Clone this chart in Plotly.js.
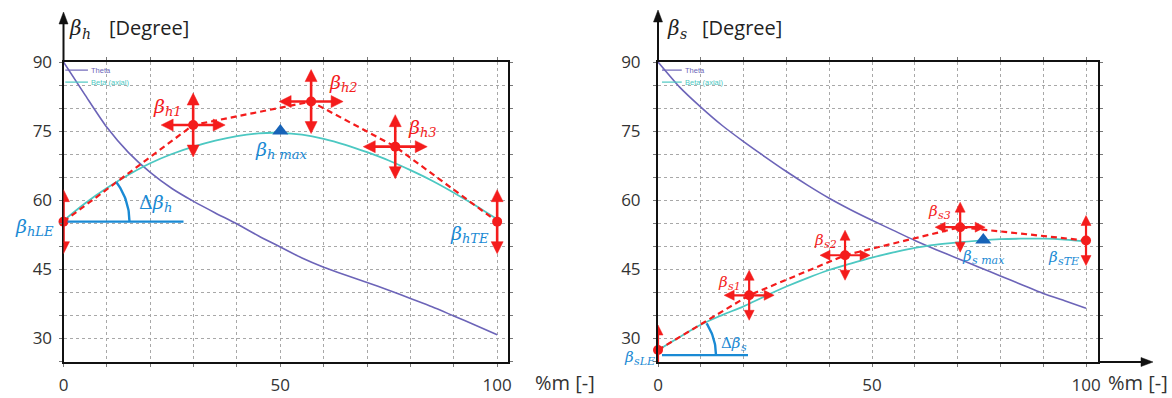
<!DOCTYPE html>
<html><head><meta charset="utf-8">
<script src="https://cdn.plot.ly/plotly-3.0.1.min.js"></script>
<style>html,body{margin:0;padding:0;background:#fff}#chart{width:1172px;height:398px}</style>
</head><body><div id="chart"></div>
<script>
// ---------------- data ----------------
const mPos = [0,5,10,15,20,25,30,35,40,45,50,55,60,65,70,75,80,85,90,95,100];
const thetaHub = [90,82.8,75.8,70.3,66.0,62.5,59.7,57.2,54.8,52.2,49.8,47.4,45.4,43.7,42.1,40.4,38.6,36.8,34.8,32.8,30.7];
const betaHub  = [55.5,59.3,62.6,65.5,68.0,70.0,71.6,72.9,73.9,74.5,74.6,74.2,73.3,72.0,70.4,68.6,66.5,64.2,61.6,58.8,55.8];
const thetaShroud = [90,84.6,80.2,76.2,72.7,69.4,66.2,63.2,60.4,57.9,55.6,53.4,51.2,49.2,47.3,45.4,43.5,41.6,39.7,38.1,36.5];
const betaShroud  = [27.4,30.2,32.9,35.0,36.9,39.1,41.2,43.1,44.8,46.2,47.5,48.6,49.6,50.3,50.8,51.2,51.5,51.6,51.6,51.4,51.0];

const ctrlHubX = [0, 29.9, 57.1, 76.5, 100];
const ctrlHubY = [55.3, 76.3, 81.4, 71.6, 55.3];
const ctrlShrX = [0, 21.3, 43.7, 70.6, 100];
const ctrlShrY = [27.4, 39.3, 48.0, 54.1, 51.2];
const ctrlHubNames = ['hLE','h1','h2','h3','hTE'];
const ctrlShrNames = ['sLE','s1','s2','s3','sTE'];
const hubMaxX = [50], hubMaxY = [75.0];
const shrMaxX = [76], shrMaxY = [51.3];
const angleBaseHub = 55.3, angleBaseShr = 26.3;

const xTickVals = [0, 50, 100];
const xTickText = ['0', '50', '100'];
const yTickVals = [30, 45, 60, 75, 90];
const yTickText = ['30', '45', '60', '75', '90'];

// ---------------- styling / geometry ----------------
const W = 1172, H = 398;
const L = {x0:63.5, x1:508, xr:102.5};
const R = {x0:658, x1:1098, xr:102.8};
const yTop = 62, yBot = 362, yLo = 24.8, yHi = 90;
const pxY = (yBot - yTop)/(yHi - yLo);
const pxXL = (L.x1 - L.x0)/L.xr, pxXR = (R.x1 - R.x0)/R.xr;

const RED = '#f41c1c', BLUE = '#1a8ad4', TRI = '#1763b8', PURPLE = '#6c64b8', TEAL = '#4cc8c2';
const GREEK = 'DejaVu Serif';
const GRID = '#a8a8a8';

function minorGrid(dt){
  return {tick0: 0, dtick: dt, showgrid: true, gridcolor: GRID, griddash: 'dot', gridwidth: 1,
          ticks: 'outside', ticklen: 3, tickcolor: '#777'};
}
function axX(dom, rng, anchor){
  return {domain: dom, range: rng, anchor: anchor, tickmode: 'array', tickvals: xTickVals, ticktext: xTickText,
    showgrid: true, gridcolor: GRID, griddash: 'dot', gridwidth: 1,
    showline: true, linecolor: '#111', linewidth: 2, mirror: 'allticks',
    ticks: 'outside', ticklen: 3, tickcolor: '#777', zeroline: false, minor: minorGrid(10),
    tickfont: {family: 'Open Sans', size: 17, color: '#333'}, ticklabelstandoff: 4, fixedrange: true};
}
function axY(dom, anchor, standoff){
  return {domain: dom, range: [yLo, yHi], anchor: anchor, tickmode: 'array', tickvals: yTickVals, ticktext: yTickText,
    showgrid: true, gridcolor: GRID, griddash: 'dot', gridwidth: 1,
    showline: true, linecolor: '#111', linewidth: 2, mirror: 'allticks',
    ticks: 'outside', ticklen: 3, tickcolor: '#777', zeroline: false, minor: minorGrid(5),
    tickfont: {family: 'Open Sans', size: 17, color: '#333'}, ticklabelstandoff: standoff, fixedrange: true};
}

const yDom = [1 - yBot/H, 1 - yTop/H];

const traces = [];
function addChart(xa, ya, theta, beta, cx, cy, mx, my){
  traces.push({x: mPos, y: theta, xaxis: xa, yaxis: ya, mode: 'lines', line: {color: PURPLE, width: 1.6, shape: 'spline', smoothing: 0.6}, showlegend: false, hoverinfo: 'skip'});
  traces.push({x: mPos, y: beta, xaxis: xa, yaxis: ya, mode: 'lines', line: {color: TEAL, width: 1.8, shape: 'spline'}, showlegend: false, hoverinfo: 'skip'});
  traces.push({x: cx, y: cy, xaxis: xa, yaxis: ya, mode: 'lines+markers', line: {color: RED, width: 2.2, dash: '6px,4px'},
    marker: {color: RED, size: 10}, showlegend: false, hoverinfo: 'skip', cliponaxis: false});
  traces.push({x: mx, y: my, xaxis: xa, yaxis: ya, mode: 'markers', marker: {color: TRI, size: 14, symbol: 'triangle-up'}, showlegend: false, hoverinfo: 'skip'});
}
addChart('x', 'y', thetaHub, betaHub, ctrlHubX, ctrlHubY, hubMaxX, hubMaxY);
addChart('x2', 'y2', thetaShroud, betaShroud, ctrlShrX, ctrlShrY, shrMaxX, shrMaxY);

// angle markers (arc + baseline)
function angleMarker(xa, ya, cx, cy, base, pxX, radius, lenPx){
  const dxp = (cx[1]-cx[0])*pxX, dyp = (cy[1]-base)*pxY;
  const ang = Math.atan2(dyp, dxp);
  const ax = [], ay = [];
  for (let i = 0; i <= 24; i++){
    const t = ang*i/24;
    ax.push(cx[0] + radius*Math.cos(t)/pxX);
    ay.push(base + radius*Math.sin(t)/pxY);
  }
  traces.push({x: ax, y: ay, xaxis: xa, yaxis: ya, mode: 'lines', line: {color: BLUE, width: 2.4}, showlegend: false, hoverinfo: 'skip'});
  traces.push({x: [cx[0] + 4/pxX, cx[0] + lenPx/pxX], y: [base, base], xaxis: xa, yaxis: ya, mode: 'lines', line: {color: BLUE, width: 2.4}, showlegend: false, hoverinfo: 'skip'});
}
angleMarker('x', 'y', ctrlHubX, ctrlHubY, angleBaseHub, pxXL, 66, 120);
angleMarker('x2', 'y2', ctrlShrX, ctrlShrY, angleBaseShr, pxXR, 58, 90);

const shapes = [];
const annotations = [];

// red double arrows drawn as pixel-sized shapes anchored on each control point
function arrowsFor(xa, ya, cx, cy, len, hl, hw, w){
  cx.forEach((x, i) => {
    const cross = !(i === 0 || i === cx.length - 1);
    const s = len - hl + 1;
    let shaft = 'M0,' + (-s) + ' L0,' + s;
    let heads = 'M0,' + len + ' L' + (-hw) + ',' + (len-hl) + ' L' + hw + ',' + (len-hl) + ' Z' +
                ' M0,' + (-len) + ' L' + (-hw) + ',' + (-len+hl) + ' L' + hw + ',' + (-len+hl) + ' Z';
    if (cross){
      shaft += ' M' + (-s) + ',0 L' + s + ',0';
      heads += ' M' + len + ',0 L' + (len-hl) + ',' + (-hw) + ' L' + (len-hl) + ',' + hw + ' Z' +
               ' M' + (-len) + ',0 L' + (-len+hl) + ',' + (-hw) + ' L' + (-len+hl) + ',' + hw + ' Z';
    }
    const base = {type: 'path', xref: xa, yref: ya, xsizemode: 'pixel', ysizemode: 'pixel', xanchor: x, yanchor: cy[i]};
    shapes.push(Object.assign({}, base, {path: shaft, line: {color: RED, width: w}}));
    shapes.push(Object.assign({}, base, {path: heads, fillcolor: RED, line: {color: RED, width: 0.5}}));
  });
}
arrowsFor('x', 'y', ctrlHubX, ctrlHubY, 32, 12, 6, 2.6);
arrowsFor('x2', 'y2', ctrlShrX, ctrlShrY, 25, 10, 5, 2.2);

// axis arrows (shapes)
function axisArrow(xa, ya, xa0, ya0, path, head){
  const base = {type: 'path', xref: xa + ' domain', yref: ya + ' domain', xsizemode: 'pixel', ysizemode: 'pixel', xanchor: xa0, yanchor: ya0};
  shapes.push(Object.assign({}, base, {path: path, line: {color: '#111', width: 2}}));
  shapes.push(Object.assign({}, base, {path: head, fillcolor: '#111', line: {color: '#111', width: 0.5}}));
}
axisArrow('x', 'y', 0, 1, 'M0,0 L0,42', 'M0,50 L-4.5,38 L4.5,38 Z');
axisArrow('x2', 'y2', 0, 1, 'M0,0 L0,44', 'M0,52 L-4.5,40 L4.5,40 Z');
axisArrow('x2', 'y2', 1, 0, 'M0,0 L47,0', 'M55,0 L43,-4.5 L43,4.5 Z');

// Greek label = main glyph(s) + separately placed subscript (no empty helper tspans)
function greekLabel(xref, yref, x, y, pre, sub, color, size, dx, dy, anchorLeft){
  const subSize = Math.round(size*0.7);
  const mainW = (pre ? 0.62*size : 0) + 0.6*size;
  const subW = sub.length*0.58*subSize;
  const j = anchorLeft ? dx + mainW : dx - (mainW + subW)/2 + mainW;
  const f = {family: GREEK, color: color};
  annotations.push({x: x, y: y, xref: xref, yref: yref, text: pre + '<i>β</i>', showarrow: false,
    xanchor: 'right', yanchor: 'middle', xshift: j + 1, yshift: -dy, borderpad: 0, font: Object.assign({size: size}, f)});
  annotations.push({x: x, y: y, xref: xref, yref: yref, text: '<i>' + sub + '</i>', showarrow: false,
    xanchor: 'left', yanchor: 'middle', xshift: j - 1, yshift: -dy - 0.3*size, borderpad: 0, font: Object.assign({size: subSize}, f)});
}
// hub labels
const hubOff = [[-31,4],[-26,-19],[32,-20],[27,-20],[-30,11]];
ctrlHubNames.forEach((n, i) => greekLabel('x', 'y', ctrlHubX[i], ctrlHubY[i], '', n, (i===0||i===4)?BLUE:RED, 19, hubOff[i][0], hubOff[i][1]));
greekLabel('x', 'y', hubMaxX[0], hubMaxY[0], '', 'h max', BLUE, 19, 0, 18);
greekLabel('x', 'y', ctrlHubX[0], angleBaseHub, 'Δ', 'h', BLUE, 19, 93, -20);
// shroud labels
const shrOff = [[-19,7],[-19,-13],[-19,-15],[-20,-16],[-23,16]];
ctrlShrNames.forEach((n, i) => greekLabel('x2', 'y2', ctrlShrX[i], ctrlShrY[i], '', n, (i===0||i===4)?BLUE:RED, 15, shrOff[i][0], shrOff[i][1]));
greekLabel('x2', 'y2', shrMaxX[0], shrMaxY[0], '', 's max', BLUE, 15, 0, 16);
greekLabel('x2', 'y2', ctrlShrX[0], angleBaseShr, 'Δ', 's', BLUE, 15, 77, -12);

// titles
const titleSans = 'Open Sans';
greekLabel('paper', 'paper', 0, 1, '', 'h', '#222', 20, 70, 28, true);
greekLabel('paper', 'paper', 0, 1, '', 's', '#222', 20, 668, 28, true);
annotations.push({x: 107/W, y: 1 - 28/H, xref: 'paper', yref: 'paper', xanchor: 'left', yanchor: 'middle', showarrow: false,
  text: '[Degree]', font: {family: titleSans, size: 20, color: '#222'}});
annotations.push({x: 700/W, y: 1 - 28/H, xref: 'paper', yref: 'paper', xanchor: 'left', yanchor: 'middle', showarrow: false,
  text: '[Degree]', font: {family: titleSans, size: 20, color: '#222'}});
annotations.push({x: 533/W, y: 1 - 382/H, xref: 'paper', yref: 'paper', xanchor: 'left', yanchor: 'middle', showarrow: false,
  text: '%m [-]', font: {family: titleSans, size: 20, color: '#333'}});
annotations.push({x: 1106/W, y: 1 - 382/H, xref: 'paper', yref: 'paper', xanchor: 'left', yanchor: 'middle', showarrow: false,
  text: '%m [-]', font: {family: titleSans, size: 20, color: '#333'}});

// mini legends
function miniLegend(xa, ya, x0, x1){
  [['Theta', PURPLE, 0.973], ['Beta (axial)', TEAL, 0.933]].forEach(it => {
    shapes.push({type: 'line', xref: xa + ' domain', yref: ya + ' domain', x0: x0, x1: x1, y0: it[2], y1: it[2], line: {color: it[1], width: 1.2}});
    annotations.push({x: x1 + 0.003, y: it[2], xref: xa + ' domain', yref: ya + ' domain', xanchor: 'left', yanchor: 'middle', showarrow: false,
      text: it[0], font: {family: 'Liberation Sans', size: 7.5, color: it[1]}});
  });
}
miniLegend('x', 'y', 0.004, 0.055);
miniLegend('x2', 'y2', 0.009, 0.054);

const layout = {
  width: W, height: H, margin: {l: 0, r: 0, t: 0, b: 0},
  paper_bgcolor: '#fff', plot_bgcolor: '#fff', showlegend: false,
  xaxis: axX([L.x0/W, L.x1/W], [0, L.xr], 'y'),
  yaxis: axY(yDom, 'x', 3),
  xaxis2: axX([R.x0/W, R.x1/W], [0, R.xr], 'y2'),
  yaxis2: axY(yDom, 'x2', 9),
  annotations: annotations, shapes: shapes
};
Plotly.newPlot('chart', traces, layout, {displayModeBar: false, staticPlot: true});
</script></body></html>
